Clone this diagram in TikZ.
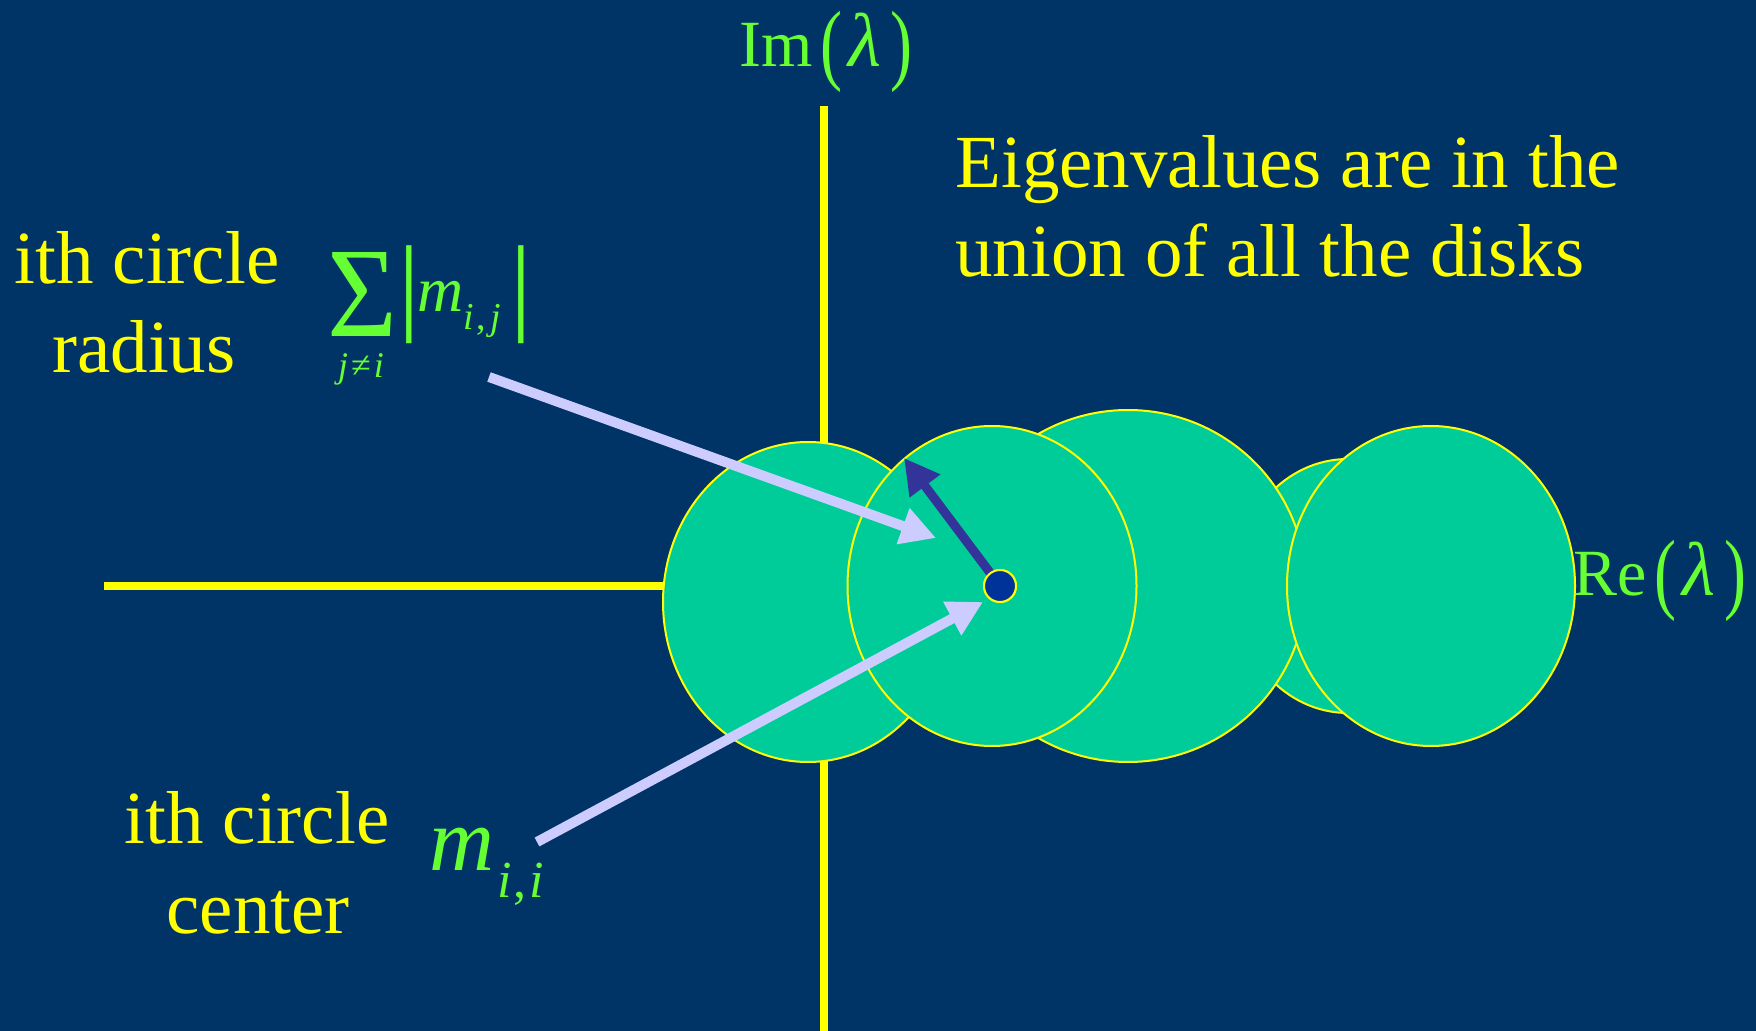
\documentclass[tikz,border=0pt]{standalone}
\usepackage{fontspec}
\setmainfont{Liberation Serif}
\usetikzlibrary{arrows.meta}
\definecolor{bgc}{HTML}{003366}
\definecolor{yel}{HTML}{FFFF00}
\definecolor{grn}{HTML}{66FF33}
\definecolor{disk}{HTML}{00CC99}
\definecolor{pale}{HTML}{CCCCFF}
\definecolor{darkarr}{HTML}{333399}
\definecolor{dotc}{HTML}{003399}
\tikzset{
  lbl/.style={text=yel, inner sep=0pt, font=\fontsize{37.5}{44.5}\selectfont},
  glbl/.style={text=grn, inner sep=0pt},
  axis/.style={draw=yel, line width=4pt},
  diskst/.style={fill=disk, draw=yel, line width=1pt},
  palearr/.style={draw=pale, line width=5pt, -{Triangle[length=17.5pt,width=18pt]}},
  darkarrow/.style={draw=darkarr, line width=4.5pt, -{Triangle[length=17.5pt,width=18pt]}},
}
\newcommand{\bigparen}[1]{\raisebox{-3.5pt}{\scalebox{1}[1.36]{#1}}}
\newcommand{\lam}{{\fontsize{38}{38}\selectfont\textit{λ}}}
\begin{document}
\begin{tikzpicture}[x=0.5pt,y=-0.5pt]
\useasboundingbox (0,0) rectangle (1756,1031);
\fill[bgc] (0,0) rectangle (1756,1031);
% axes
\coordinate (vtop) at (824,106);
\coordinate (vbot) at (824,1031);
\coordinate (hleft) at (104,586);
\coordinate (hright) at (1500,586);
\draw[axis] (vtop) -- (vbot);
\draw[axis] (hleft) -- (hright);
% disks
\path[diskst] (808,602) ellipse [x radius=145, y radius=160];
\path[diskst] (1348,586) ellipse [x radius=114, y radius=127];
\path[diskst] (1128,586) ellipse [x radius=178, y radius=176];
\path[diskst] (1431,586) ellipse [x radius=144, y radius=160];
\path[diskst] (992,586) ellipse [x radius=144.5, y radius=160];
% arrows
\coordinate (a1s) at (489,377);
\coordinate (a1e) at (936,538);
\coordinate (a2s) at (537,842);
\coordinate (a2e) at (983,602);
\coordinate (a3e) at (904,458);
\node[circle, fill=dotc, draw=yel, line width=1pt, minimum size=16pt, inner sep=0pt] (dot) at (1000,586) {};
\draw[palearr] (a1s) -- (a1e);
\draw[palearr] (a2s) -- (a2e);
\draw[darkarrow] (dot.center) -- (a3e);
\node[circle, fill=dotc, draw=yel, line width=1pt, minimum size=16pt, inner sep=0pt] (dottop) at (1000,586) {};
% axis labels
\node[glbl, anchor=base west, font=\fontsize{33}{33}\selectfont] (im) at (739,67)
  {Im\kern4pt\bigparen{(}\kern3pt\lam\kern4.5pt\bigparen{)}};
\node[glbl, anchor=base west, font=\fontsize{33}{33}\selectfont] (re) at (1573,596)
  {Re\kern4pt\bigparen{(}\kern3pt\lam\kern4.5pt\bigparen{)}};
% texts
\node[lbl, anchor=base west] (eig1) at (955,188) {Eigenvalues are in the};
\node[lbl, anchor=base west] (eig2) at (955,277) {union of all the disks};
\node[lbl, anchor=base] (rad1) at (147,284) {ith circle};
\node[lbl, anchor=base] (rad2) at (144,373) {radius};
\node[lbl, anchor=base] (cen1) at (257,843) {ith circle};
\node[lbl, anchor=base] (cen2) at (258,933) {center};
% radius formula
\node[glbl, anchor=south west] (sig) at (327,337) {\resizebox{35pt}{42pt}{Σ}};
\node[glbl, anchor=base, font=\fontsize{18}{18}\selectfont] (sub) at (361,378) {\textit{j}\kern1.5pt≠\kern1.5pt\textit{i}};
\node[glbl, anchor=south] (lbar) at (409,344) {\resizebox*{!}{49pt}{|}};
\node[glbl, anchor=base west, font=\fontsize{32}{32}\selectfont] (mij) at (417,312) {\textit{m}};
\node[glbl, anchor=base west, font=\fontsize{19}{19}\selectfont] (subij) at (463,330) {\textit{i}\kern1.5pt,\kern2pt\textit{j}};
\node[glbl, anchor=south] (rbar) at (521,344) {\resizebox*{!}{49pt}{|}};
% center formula
\node[glbl, anchor=base west, font=\fontsize{45}{45}\selectfont] (mii) at (429,870) {\textit{m}};
\node[glbl, anchor=base west, font=\fontsize{26}{26}\selectfont] (subii) at (497,897) {\textit{i}\kern1pt,\kern1.5pt\textit{i}};
\end{tikzpicture}
\end{document}
